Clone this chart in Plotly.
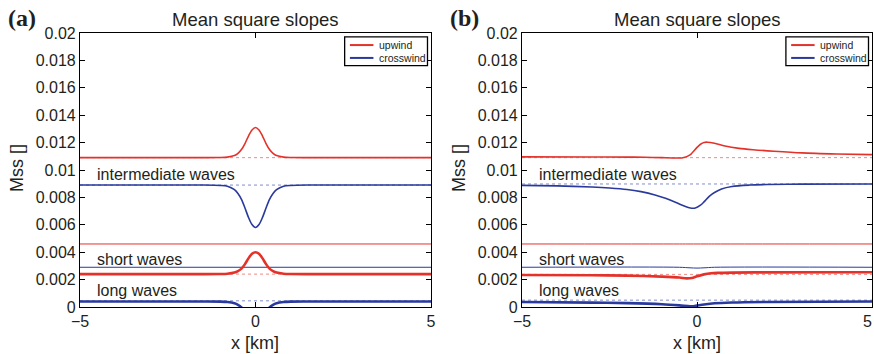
import plotly.graph_objects as go

# ---------------------------------------------------------------------------
# Mean square slopes across the front, panel (a) and panel (b)
# ---------------------------------------------------------------------------
RED = "#e4322b"
BLUE = "#2a3a9c"
RED_DOT = "#f08a84"
BLUE_DOT = "#7f8ccc"
TXT = "#231f20"

# ---- panel (a) -------------------------------------------------------------
xa = [-5, -1.5, -1.0, -0.8, -0.6, -0.5, -0.4, -0.3, -0.2, -0.1, 0,
      0.1, 0.2, 0.3, 0.4, 0.5, 0.6, 0.8, 1.0, 1.5, 5]
a_int_up = [0.0109, 0.0109, 0.01091, 0.01094, 0.01105, 0.01121, 0.01149, 0.01193,
            0.01248, 0.01292, 0.0131, 0.01292, 0.01248, 0.01193, 0.01149, 0.01121,
            0.01105, 0.01094, 0.01091, 0.0109, 0.0109]
a_int_cross = [0.0089, 0.0089, 0.00887, 0.00881, 0.00856, 0.00828, 0.00785, 0.00723,
               0.00654, 0.00602, 0.0058, 0.00602, 0.00654, 0.00723, 0.00785, 0.00828,
               0.00856, 0.00881, 0.00887, 0.0089, 0.0089]
a_long_up = [0.0024, 0.0024, 0.00241, 0.00243, 0.00251, 0.00262, 0.0028, 0.00313,
             0.00355, 0.00388, 0.0040, 0.00388, 0.00355, 0.00313, 0.0028, 0.00262,
             0.00251, 0.00243, 0.00241, 0.0024, 0.0024]
a_long_cross = [0.0004, 0.0004, 0.00039, 0.00036, 0.00027, 0.00016, -0.00003, -0.00035,
                -0.0008, -0.0012, -0.0014, -0.0012, -0.0008, -0.00035, -0.00003, 0.00016,
                0.00027, 0.00036, 0.00039, 0.0004, 0.0004]
xa_flat = [-5, 5]
a_short_up = [0.0046, 0.0046]
a_short_cross = [0.0029, 0.0029]
# reference (undisturbed) levels, dotted
a_ref_red = [0.0109, 0.0024]
a_ref_blue = [0.0089, 0.00045]

# ---- panel (b) -------------------------------------------------------------
xb_int_up = [-5, -3, -2, -1.5, -1.0, -0.6, -0.4, -0.2, 0, 0.1, 0.2, 0.3, 0.5,
             0.8, 1.2, 1.6, 2.2, 3, 4, 5]
b_int_up = [0.01096, 0.01095, 0.01094, 0.01093, 0.0109, 0.01088, 0.01089, 0.0111,
            0.01165, 0.01188, 0.01201, 0.01203, 0.01195, 0.01175, 0.01158, 0.01148,
            0.01137, 0.01125, 0.01117, 0.01112]
xb_int_cross = [-5, -4, -3, -2.5, -2, -1.6, -1.2, -0.9, -0.6, -0.4, -0.25, -0.15,
                -0.05, 0.1, 0.2, 0.35, 0.5, 0.7, 1.0, 1.5, 2, 3, 5]
b_int_cross = [0.00888, 0.00884, 0.00876, 0.00869, 0.00858, 0.00842, 0.00818,
               0.00793, 0.00763, 0.00741, 0.00727, 0.00721, 0.00722, 0.00743,
               0.00767, 0.00808, 0.00836, 0.00862, 0.0088, 0.0089, 0.00894,
               0.00897, 0.00898]
xb_short = [-5, -0.5, -0.2, 0, 0.2, 0.5, 5]
b_short_up = [0.0046, 0.0046, 0.0046, 0.0046, 0.0046, 0.0046, 0.0046]
b_short_cross = [0.0029, 0.0029, 0.00286, 0.00284, 0.00286, 0.0029, 0.0029]
xb_long_up = [-5, -3, -2, -1, -0.5, -0.3, -0.15, 0, 0.2, 0.4, 0.6, 1, 2, 5]
b_long_up = [0.00234, 0.00232, 0.00229, 0.00222, 0.00215, 0.00209, 0.00212,
             0.00224, 0.00238, 0.00246, 0.00249, 0.00251, 0.00253, 0.00254]
xb_long_cross = [-5, -3, -2, -1, -0.5, -0.2, -0.1, 0, 0.2, 0.5, 1, 2, 5]
b_long_cross = [0.00036, 0.00032, 0.00028, 0.0002, 0.00012, 0.00006, 0.00006,
                0.0001, 0.00018, 0.00027, 0.00033, 0.00037, 0.0004]
b_ref_red = [0.0109, 0.00238]
b_ref_blue = [0.00898, 0.0005]

# ---- axis ticks and annotations -------------------------------------------
y_ticks = [0, 0.002, 0.004, 0.006, 0.008, 0.01, 0.012, 0.014, 0.016, 0.018, 0.02]
y_tick_text = ["0", "0.002", "0.004", "0.006", "0.008", "0.01", "0.012",
               "0.014", "0.016", "0.018", "0.02"]
x_ticks = [-5, 0, 5]
x_tick_text = ["\u22125", "0", "5"]
band_labels = ["intermediate waves", "short waves", "long waves"]
band_label_y = [0.0097, 0.0035, 0.00124]
legend_names = ["upwind", "crosswind"]
panel_tags = ["(a)", "(b)"]
title_text = "Mean square slopes"
x_title = "x [km]"
y_title = "Mss []"

W, H = 874, 354
fig = go.Figure()


def line(x, y, color, width, xa_name, ya_name, dash="solid"):
    fig.add_trace(go.Scatter(x=x, y=y, mode="lines", line=dict(color=color, width=width,
                                                               dash=dash, shape="spline",
                                                               smoothing=0.8),
                             xaxis=xa_name, yaxis=ya_name, showlegend=False,
                             hoverinfo="skip"))


panels = [
    dict(ax="x", ay="y", ref_red=a_ref_red, ref_blue=a_ref_blue,
         curves=[(xa, a_int_up, RED, 1.6), (xa, a_int_cross, BLUE, 1.6),
                 (xa_flat, a_short_up, RED, 1.0), (xa_flat, a_short_cross, BLUE, 1.0),
                 (xa, a_long_up, RED, 2.6), (xa, a_long_cross, BLUE, 2.6)]),
    dict(ax="x2", ay="y2", ref_red=b_ref_red, ref_blue=b_ref_blue,
         curves=[(xb_int_up, b_int_up, RED, 1.6), (xb_int_cross, b_int_cross, BLUE, 1.6),
                 (xb_short, b_short_up, RED, 1.0), (xb_short, b_short_cross, BLUE, 1.0),
                 (xb_long_up, b_long_up, RED, 2.6), (xb_long_cross, b_long_cross, BLUE, 2.6)]),
]

for p in panels:
    for v in p["ref_red"]:
        line([-5, 5], [v, v], RED_DOT, 1.0, p["ax"], p["ay"], dash="dot")
    for v in p["ref_blue"]:
        line([-5, 5], [v, v], BLUE_DOT, 1.0, p["ax"], p["ay"], dash="dot")
    for cx, cy, col, w in p["curves"]:
        line(cx, cy, col, w, p["ax"], p["ay"])

# plot area pixel boxes
boxes = [(80, 431), (522, 872)]
top_px, bot_px = 33, 307
ydom = [1 - bot_px / H, 1 - top_px / H]

axis_common = dict(showline=True, linecolor="black", linewidth=1.2, mirror="ticks",
                   ticks="inside", ticklen=5, tickwidth=1, tickcolor="black",
                   showgrid=False, zeroline=False,
                   tickfont=dict(family="Liberation Sans, Arial", size=16, color=TXT))

layout = dict(width=W, height=H, margin=dict(l=0, r=0, t=0, b=0, autoexpand=False),
              paper_bgcolor="white", plot_bgcolor="white", showlegend=False)
for i, (l, r) in enumerate(boxes):
    sfx = "" if i == 0 else str(i + 1)
    # the right panel's last x label sits at the window edge; it is drawn
    # as an annotation nudged inward instead of as a tick label
    ttext = x_tick_text if i == 0 else x_tick_text[:-1] + [""]
    layout["xaxis" + sfx] = dict(axis_common, domain=[l / W, r / W], range=[-5, 5],
                                 tickvals=x_ticks, ticktext=ttext,
                                 anchor="y" + sfx)
    layout["yaxis" + sfx] = dict(axis_common, domain=ydom, range=[0, 0.02],
                                 tickvals=y_ticks, ticktext=y_tick_text,
                                 anchor="x" + sfx)
fig.update_layout(**layout)

fig.add_annotation(x=x_ticks[-1], y=1 - 321 / H, xref="x2", yref="paper",
                   text=x_tick_text[-1], showarrow=False, xanchor="right",
                   yanchor="middle", xshift=2,
                   font=dict(family="Liberation Sans, Arial", size=16, color=TXT))

font_main = "Liberation Sans, Arial"
for i, (l, r) in enumerate(boxes):
    sfx = "" if i == 0 else str(i + 1)
    xr, yr = "x" + sfx, "y" + sfx
    cx = (l + r) / 2 / W
    # title
    fig.add_annotation(x=cx, y=1 - 19 / H, xref="paper", yref="paper", text=title_text,
                       showarrow=False, xanchor="center", yanchor="middle",
                       font=dict(family=font_main, size=18.5, color=TXT))
    # panel tag
    fig.add_annotation(x=(l - 74) / W, y=1 - 18 / H, xref="paper", yref="paper",
                       text="<b>" + panel_tags[i] + "</b>", showarrow=False,
                       xanchor="left", yanchor="middle",
                       font=dict(family="Liberation Serif, Times New Roman", size=24,
                                 color=TXT))
    # axis titles
    fig.add_annotation(x=cx, y=1 - 343 / H, xref="paper", yref="paper", text=x_title,
                       showarrow=False, xanchor="center", yanchor="middle",
                       font=dict(family=font_main, size=18, color=TXT))
    fig.add_annotation(x=(l - 63) / W, y=1 - 168 / H, xref="paper", yref="paper",
                       text=y_title, showarrow=False, textangle=-90,
                       xanchor="center", yanchor="middle",
                       font=dict(family=font_main, size=18, color=TXT))
    # wave band labels
    for txt, yv in zip(band_labels, band_label_y):
        fig.add_annotation(x=-4.56, y=yv, xref=xr, yref=yr, text=txt, showarrow=False,
                           xanchor="left", yanchor="middle",
                           font=dict(family=font_main, size=16, color=TXT))
    # legend box
    xd, yd = xr + " domain", yr + " domain"
    fig.add_shape(type="rect", xref=xd, yref=yd, x0=0.754, x1=0.99, y0=0.881, y1=0.986,
                  line=dict(color="black", width=1.3), fillcolor="white", layer="above")
    for j, (name, col, yy) in enumerate(zip(legend_names, [RED, BLUE], [0.956, 0.909])):
        fig.add_shape(type="line", xref=xd, yref=yd, x0=0.769, x1=0.836, y0=yy, y1=yy,
                      line=dict(color=col, width=2), layer="above")
        fig.add_annotation(x=0.845, y=yy, xref=xd, yref=yd, text=name, showarrow=False,
                           xanchor="left", yanchor="middle",
                           font=dict(family=font_main, size=10.5, color=TXT))

# page without body margin so the figure fills the window exactly
fig.write_html("out.html",
               post_script="document.body.style.margin='0';"
                           "document.documentElement.style.overflow='hidden';")
